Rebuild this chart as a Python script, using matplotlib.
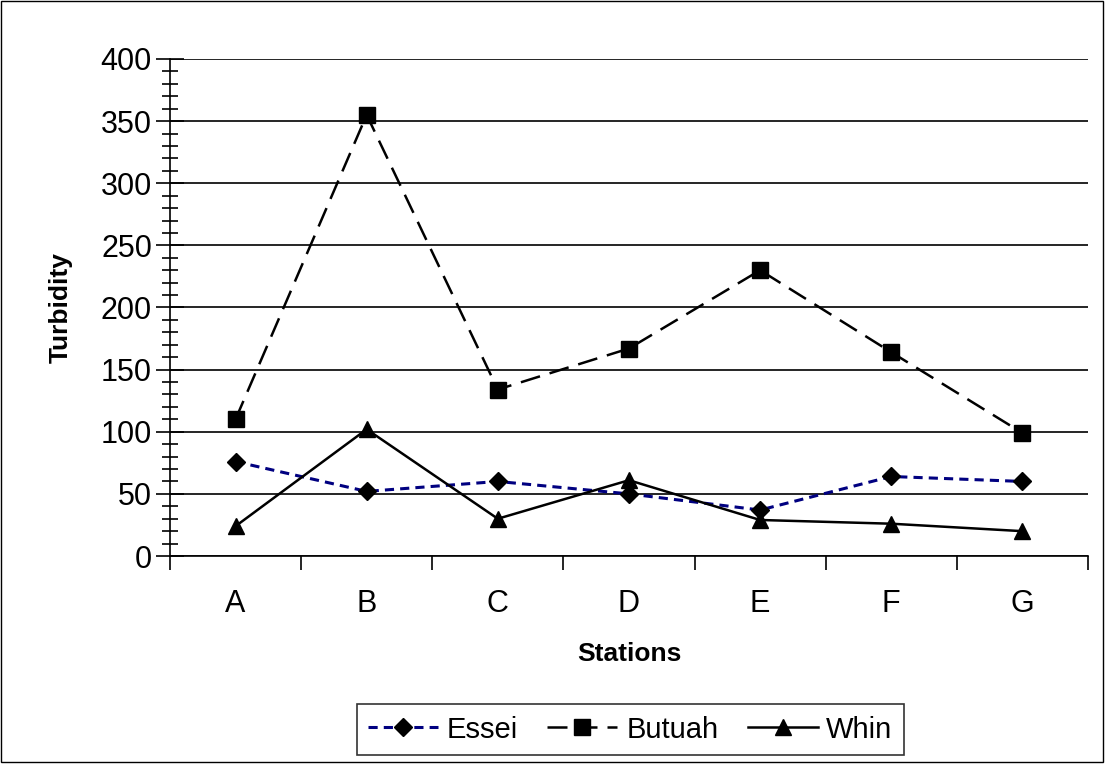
import matplotlib
matplotlib.use('Agg')
import matplotlib.pyplot as plt
from matplotlib.ticker import MultipleLocator
from matplotlib.patches import Rectangle

plt.rcParams['font.family'] = ['Liberation Sans', 'DejaVu Sans']

stations = ['A', 'B', 'C', 'D', 'E', 'F', 'G']
essei = [76, 52, 60, 50, 37, 64, 60]
butuah = [110, 355, 134, 167, 230, 164, 99]
whin = [24, 102, 30, 61, 29, 26, 20]

fig = plt.figure(figsize=(11.05, 7.7), dpi=100)
ax = fig.add_axes([0.1538, 0.2779, 0.8308, 0.6455])

x = list(range(len(stations)))
ax.plot(x, essei, color='#000080', ls=(0, (3, 2)), lw=2.2, marker='D',
        ms=9, mfc='black', mec='black', label='Essei')
ax.plot(x, butuah, color='black', ls=(0, (8, 4)), lw=1.8, marker='s',
        ms=11, mfc='black', mec='black', label='Butuah')
ax.plot(x, whin, color='black', ls='-', lw=1.8, marker='^',
        ms=12, mfc='black', mec='black', label='Whin')

ax.set_xlim(-0.5, len(stations) - 0.5)
ax.set_ylim(0, 400)
ax.yaxis.set_major_locator(MultipleLocator(50))
ax.yaxis.set_minor_locator(MultipleLocator(10))
ax.grid(axis='y', which='major', color='black', lw=1.2)
ax.set_axisbelow(True)

ax.set_xticks(x)
ax.set_xticklabels(stations)
ax.set_xticks([i - 0.5 for i in range(len(stations) + 1)], minor=True)
ax.tick_params(axis='x', which='major', length=0, labelsize=22, pad=24)
ax.tick_params(axis='x', which='minor', length=10, width=1.2, direction='out')
ax.tick_params(axis='y', which='major', length=20, width=1.2, direction='inout', labelsize=22, pad=3)
ax.tick_params(axis='y', which='minor', length=12, width=1.2, direction='inout')

for s in ['top', 'right']:
    ax.spines[s].set_visible(False)
ax.spines['left'].set_linewidth(1.2)
ax.spines['bottom'].set_linewidth(1.2)

ax.set_ylabel('Turbidity', fontsize=19, fontweight='bold', labelpad=20)
ax.set_xlabel('Stations', fontsize=19, fontweight='bold', labelpad=16)

leg = fig.legend(loc='center', ncol=3, fontsize=21, frameon=True, fancybox=False,
                 edgecolor='black', handlelength=2.4, handletextpad=0.3,
                 columnspacing=1.0, borderpad=0.4,
                 bbox_to_anchor=(0.5705, 0.0525), bbox_transform=fig.transFigure)
leg.get_frame().set_linewidth(1.2)

fig.patches.append(Rectangle((0.001, 0.01), 0.997, 0.989, transform=fig.transFigure,
                             fill=False, edgecolor='black', lw=1))

fig.savefig('out.png', dpi=100)
